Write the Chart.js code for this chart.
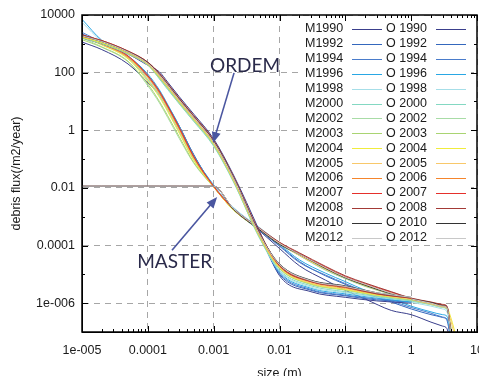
<!DOCTYPE html>
<html>
<head>
<meta charset="utf-8">
<script src="https://cdn.jsdelivr.net/npm/chart.js@4.4.1/dist/chart.umd.min.js"></script>
<style>
  html, body { margin: 0; padding: 0; background: #fff; overflow: hidden; }
  #wrap { width: 479px; height: 376px; overflow: hidden; }
</style>
</head>
<body>
<div id="wrap"><canvas id="fluxChart" width="479" height="382"></canvas></div>
<script>
// years plotted for both models, and the colour used for each year
const years = [1990, 1992, 1994, 1996, 1998, 2000, 2002, 2003, 2004, 2005, 2006, 2007, 2008, 2010, 2012];
const yearColors = ['#3a3f8c', '#3467bd', '#4a7ccb', '#29a7e4', '#a6dee8', '#84d8c2', '#a8dca6', '#a9d472',
  '#f0ec3c', '#f8c86a', '#f5852c', '#e5302b', '#a33a36', '#333333', '#c8c8c8'];
const masterLabels = years.map((y) => 'M' + y);
const ordemLabels = years.map((y) => 'O ' + y);

// ORDEM: size (m) -> flux (/m2/year)
const ordemSizes = [1e-5, 2e-5, 5e-5, 1e-4, 1.5e-4, 2e-4, 3e-4, 5e-4, 1e-3, 2e-3, 5e-3, 1e-2, 3e-2, 0.1, 0.3, 1];
const ordem1990 = [1.6e3, 1.0e3, 4.4e2, 1.8e2, 106, 47, 14.6, 3.6, 0.50, 0.028, 3.1e-4, 9.0e-6, 2.5e-6, 1.6e-6, 1.2e-6, 1.0e-6];
const ordem1992 = [1.7e3, 1.1e3, 4.6e2, 1.9e2, 75, 33, 10.3, 2.5, 0.36, 0.020, 2.2e-4, 1.0e-5, 2.8e-6, 1.8e-6, 1.3e-6, 1.1e-6];
const ordem1994 = [1.7e3, 1.1e3, 4.9e2, 2.0e2, 72, 32, 9.9, 2.4, 0.34, 0.019, 2.1e-4, 1.1e-5, 3.0e-6, 1.9e-6, 1.4e-6, 1.1e-6];
const ordem1996 = [1.8e3, 1.2e3, 5.0e2, 2.0e2, 67, 30, 9.2, 2.3, 0.32, 0.018, 2.0e-4, 1.2e-5, 3.3e-6, 2.1e-6, 1.5e-6, 1.1e-6];
const ordem1998 = [1.7e3, 1.1e3, 4.9e2, 2.0e2, 63, 28, 8.6, 2.1, 0.30, 0.017, 1.8e-4, 1.3e-5, 3.6e-6, 2.3e-6, 1.6e-6, 1.2e-6];
const ordem2000 = [1.7e3, 1.1e3, 4.6e2, 1.9e2, 60, 26, 8.2, 2.0, 0.28, 0.016, 1.8e-4, 1.4e-5, 4.0e-6, 2.5e-6, 1.7e-6, 1.2e-6];
const ordem2002 = [1.6e3, 1.0e3, 4.4e2, 1.8e2, 63, 28, 8.6, 2.1, 0.30, 0.017, 1.8e-4, 1.6e-5, 4.4e-6, 2.8e-6, 1.8e-6, 1.3e-6];
const ordem2003 = [1.7e3, 1.1e3, 4.6e2, 1.9e2, 67, 30, 9.2, 2.3, 0.32, 0.018, 2.0e-4, 1.6e-5, 4.6e-6, 2.9e-6, 1.9e-6, 1.3e-6];
const ordem2004 = [1.7e3, 1.1e3, 4.9e2, 2.0e2, 72, 32, 9.9, 2.4, 0.34, 0.019, 2.1e-4, 1.7e-5, 4.8e-6, 3.0e-6, 1.9e-6, 1.4e-6];
const ordem2005 = [1.8e3, 1.2e3, 5.0e2, 2.0e2, 75, 33, 10.3, 2.5, 0.36, 0.020, 2.2e-4, 1.8e-5, 5.0e-6, 3.2e-6, 2.0e-6, 1.4e-6];
const ordem2006 = [1.8e3, 1.2e3, 5.1e2, 2.1e2, 83, 37, 11.3, 2.8, 0.39, 0.022, 2.4e-4, 1.9e-5, 5.4e-6, 3.4e-6, 2.1e-6, 1.5e-6];
const ordem2007 = [2.0e3, 1.3e3, 5.6e2, 2.3e2, 90, 40, 12.4, 3.0, 0.43, 0.024, 2.7e-4, 2.1e-5, 5.8e-6, 3.7e-6, 2.2e-6, 1.5e-6];
const ordem2008 = [2.0e3, 1.3e3, 5.6e2, 2.3e2, 95, 42, 13, 3.2, 0.45, 0.025, 2.8e-4, 2.0e-5, 5.6e-6, 3.6e-6, 2.1e-6, 1.5e-6];
const ordem2010 = [1.9e3, 1.2e3, 5.3e2, 2.2e2, 86, 38, 11.8, 2.9, 0.41, 0.023, 2.5e-4, 2.3e-5, 6.3e-6, 4.0e-6, 2.3e-6, 1.6e-6];
const ordem2012 = [1.9e3, 1.2e3, 5.2e2, 2.1e2, 83, 37, 11.3, 2.8, 0.39, 0.022, 2.4e-4, 2.2e-5, 6.0e-6, 3.8e-6, 2.3e-6, 1.6e-6];

// MASTER: size (m) -> flux (/m2/year)
const masterSizes = [1e-5, 2e-5, 5e-5, 1e-4, 1.5e-4, 2e-4, 3e-4, 5e-4, 1e-3, 2e-3, 5e-3, 1e-2, 2e-2, 5e-2, 0.1, 0.2, 0.5, 1, 2, 3, 3.5, 4, 5];
const master1990 = [1.15e3, 6.3e2, 2.0e2, 45, 17.8, 7.1, 1.41, 0.141, 0.011, 2.0e-3, 3.2e-4, 7.9e-5, 2.0e-5, 6.3e-6, 2.8e-6, 1.4e-6, 5.6e-7, 4.0e-7, 2.2e-7, 1.6e-7, 1.3e-7, 3.2e-8, 3.2e-9];
const master1992 = [2.2e3, 1.05e3, 3.3e2, 79, 22.4, 7.1, 1.26, 0.126, 0.012, 1.9e-3, 3.5e-4, 1.0e-4, 2.8e-5, 8.9e-6, 4.5e-6, 2.2e-6, 1.1e-6, 6.3e-7, 4.0e-7, 3.2e-7, 2.5e-7, 5.0e-8, 3.2e-9];
const master1994 = [2.5e3, 1.12e3, 3.5e2, 71, 20, 6.3, 1.12, 0.112, 0.011, 1.8e-3, 3.3e-4, 9.5e-5, 2.6e-5, 9.5e-6, 4.8e-6, 2.5e-6, 1.2e-6, 7.1e-7, 4.5e-7, 3.3e-7, 2.8e-7, 6.3e-8, 3.2e-9];
const master1996 = [7.1e3, 1.32e3, 3.8e2, 89, 25, 7.9, 1.41, 0.132, 0.0126, 2.0e-3, 4.0e-4, 1.1e-4, 3.2e-5, 1.1e-5, 5.6e-6, 2.8e-6, 1.4e-6, 7.9e-7, 5.0e-7, 4.0e-7, 3.5e-7, 7.9e-8, 3.2e-9];
const master1998 = [5.6e3, 1.2e3, 3.5e2, 56, 15.8, 5.0, 0.89, 0.095, 0.012, 2.1e-3, 4.2e-4, 1.26e-4, 4.5e-5, 1.4e-5, 7.1e-6, 4.0e-6, 2.0e-6, 1.1e-6, 7.9e-7, 6.3e-7, 5.0e-7, 7.9e-8, 3.2e-9];
const master2000 = [2.0e3, 9.5e2, 3.2e2, 56, 15.8, 5.0, 0.89, 0.095, 0.011, 1.8e-3, 3.8e-4, 1.26e-4, 5.0e-5, 1.6e-5, 7.6e-6, 4.0e-6, 2.1e-6, 1.2e-6, 8.9e-7, 7.1e-7, 6.0e-7, 1.26e-7, 3.2e-9];
const master2002 = [1.6e3, 7.9e2, 2.5e2, 35, 8.9, 2.8, 0.52, 0.071, 0.0105, 1.7e-3, 3.5e-4, 1.1e-4, 4.5e-5, 1.4e-5, 7.1e-6, 3.8e-6, 2.0e-6, 1.26e-6, 8.9e-7, 7.1e-7, 6.3e-7, 1.26e-7, 3.2e-9];
const master2003 = [1.4e3, 7.6e2, 2.4e2, 40, 10, 3.2, 0.60, 0.076, 0.0107, 1.7e-3, 3.6e-4, 1.2e-4, 4.7e-5, 1.5e-5, 7.4e-6, 4.0e-6, 2.1e-6, 1.3e-6, 9.5e-7, 7.6e-7, 6.6e-7, 1.6e-7, 3.2e-9];
const master2004 = [1.8e3, 9.1e2, 3.0e2, 50, 14.1, 4.5, 0.79, 0.089, 0.0107, 1.7e-3, 3.7e-4, 1.2e-4, 4.8e-5, 1.6e-5, 7.9e-6, 4.2e-6, 2.2e-6, 1.4e-6, 1.0e-6, 7.9e-7, 7.1e-7, 3.2e-7, 5.0e-8];
const master2005 = [1.9e3, 9.5e2, 3.3e2, 63, 17.8, 5.6, 1.0, 0.105, 0.011, 1.8e-3, 3.6e-4, 1.15e-4, 4.6e-5, 1.5e-5, 7.6e-6, 4.1e-6, 2.1e-6, 1.35e-6, 9.5e-7, 7.6e-7, 6.6e-7, 2.5e-7, 3.2e-8];
const master2006 = [2.0e3, 1.0e3, 3.5e2, 71, 20, 6.3, 1.12, 0.112, 0.011, 1.8e-3, 3.7e-4, 1.2e-4, 5.0e-5, 1.7e-5, 7.9e-6, 4.4e-6, 2.2e-6, 1.4e-6, 1.0e-6, 7.9e-7, 7.1e-7, 1.0e-7, 3.2e-9];
const master2007 = [2.1e3, 1.05e3, 3.8e2, 79, 22.4, 7.1, 1.26, 0.12, 0.0115, 1.9e-3, 3.8e-4, 1.26e-4, 5.2e-5, 1.8e-5, 8.3e-6, 4.7e-6, 2.4e-6, 1.45e-6, 1.07e-6, 8.7e-7, 7.6e-7, 1.0e-7, 3.2e-9];
const master2008 = [0.0115, 0.0115, 0.0115, 0.0115, 0.0115, 0.0115, 0.0115, 0.0115, 0.0115, 1.9e-3, 4.0e-4, 1.3e-4, 5.6e-5, 1.9e-5, 8.9e-6, 5.0e-6, 2.5e-6, 1.5e-6, 1.1e-6, 9.1e-7, 7.9e-7, 1.0e-7, 3.2e-9];
const master2010 = [0.0115, 0.0115, 0.0115, 0.0115, 0.0115, 0.0115, 0.0115, 0.0115, 0.0115, 1.8e-3, 3.5e-4, 1.1e-4, 5.0e-5, 1.6e-5, 7.6e-6, 4.2e-6, 2.1e-6, 1.4e-6, 1.05e-6, 8.3e-7, 7.2e-7, 1.0e-7, 3.2e-9];
const master2012 = [0.0115, 0.0115, 0.0115, 0.0115, 0.0115, 0.0115, 0.0115, 0.0115, 0.0115, 1.9e-3, 3.8e-4, 1.2e-4, 5.0e-5, 1.7e-5, 7.9e-6, 4.5e-6, 2.2e-6, 1.4e-6, 1.0e-6, 7.9e-7, 7.1e-7, 1.0e-7, 3.2e-9];

const ordemFlux = [ordem1990, ordem1992, ordem1994, ordem1996, ordem1998, ordem2000, ordem2002, ordem2003,
  ordem2004, ordem2005, ordem2006, ordem2007, ordem2008, ordem2010, ordem2012];
const masterFlux = [master1990, master1992, master1994, master1996, master1998, master2000, master2002, master2003,
  master2004, master2005, master2006, master2007, master2008, master2010, master2012];

// axis ticks
const xTicks = [1e-5, 1e-4, 1e-3, 1e-2, 0.1, 1, 10];
const xTickLabels = ['1e-005', '0.0001', '0.001', '0.01', '0.1', '1', '10'];
const yTicks = [1e-6, 1e-4, 1e-2, 1, 100, 10000];
const yTickLabels = ['1e-006', '0.0001', '0.01', '1', '100', '10000'];
const yMinorTicks = [1e-7, 1e-5, 1e-3, 0.1, 10, 1000];

// callouts in data coordinates
const callouts = [
  { text: 'ORDEM', at: [8.8e-4, 105], from: [2.04e-3, 98], to: [9.8e-4, 0.36] },
  { text: 'MASTER', at: [6.9e-5, 1.64e-5], from: [2.33e-4, 6.9e-5], to: [1.13e-3, 4.8e-3] },
];

const FONT = '"Liberation Sans", Arial, sans-serif';

const datasets = [];
years.forEach((year, i) => {
  datasets.push({
    label: masterLabels[i],
    data: masterSizes.map((x, j) => ({ x, y: masterFlux[i][j] })),
    borderColor: yearColors[i],
    borderWidth: 1,
    pointRadius: 0,
    cubicInterpolationMode: 'monotone',
  });
});
years.forEach((year, i) => {
  datasets.push({
    label: ordemLabels[i],
    data: ordemSizes.map((x, j) => ({ x, y: ordemFlux[i][j] })),
    borderColor: yearColors[i],
    borderWidth: 1,
    pointRadius: 0,
    cubicInterpolationMode: 'monotone',
  });
});
// later entries go on top
datasets.forEach((d, i) => { d.order = datasets.length - i; });

const keyPlugin = {
  id: 'key',
  afterDatasetsDraw(chart) {
    const ctx = chart.ctx;
    ctx.save();
    ctx.fillStyle = '#fff';
    ctx.fillRect(298, 17, 173, 228);
    ctx.font = '12.5px ' + FONT;
    ctx.textBaseline = 'middle';
    ctx.textAlign = 'left';
    years.forEach((year, i) => {
      const yy = 29 + i * 14.9;
      const ly = Math.round(yy) + 0.5;
      ctx.fillStyle = '#1a1a1a';
      ctx.fillText(masterLabels[i], 305, yy);
      ctx.fillText(ordemLabels[i], 386, yy);
      ctx.strokeStyle = yearColors[i];
      ctx.lineWidth = 1.2;
      ctx.beginPath();
      ctx.moveTo(352, ly); ctx.lineTo(382, ly);
      ctx.moveTo(436, ly); ctx.lineTo(466, ly);
      ctx.stroke();
    });
    ctx.restore();
  },
};

const framePlugin = {
  id: 'frame',
  afterDatasetsDraw(chart) {
    const { ctx, chartArea: a, scales: { x, y } } = chart;
    ctx.save();
    ctx.strokeStyle = '#000';
    ctx.lineWidth = 1;
    ctx.beginPath();
    const xMinor = [];
    xTicks.slice(0, -1).forEach((d) => { for (let k = 2; k <= 9; k++) xMinor.push(d * k); });
    xMinor.forEach((v) => {
      const px = Math.round(x.getPixelForValue(v)) + 0.5;
      ctx.moveTo(px, a.bottom); ctx.lineTo(px, a.bottom - 3);
      ctx.moveTo(px, a.top); ctx.lineTo(px, a.top + 3);
    });
    xTicks.forEach((v) => {
      const px = Math.round(x.getPixelForValue(v)) + 0.5;
      ctx.moveTo(px, a.bottom); ctx.lineTo(px, a.bottom - 6);
      ctx.moveTo(px, a.top); ctx.lineTo(px, a.top + 6);
    });
    yMinorTicks.forEach((v) => {
      const py = Math.round(y.getPixelForValue(v)) + 0.5;
      ctx.moveTo(a.left, py); ctx.lineTo(a.left + 3, py);
      ctx.moveTo(a.right, py); ctx.lineTo(a.right - 3, py);
    });
    yTicks.forEach((v) => {
      const py = Math.round(y.getPixelForValue(v)) + 0.5;
      ctx.moveTo(a.left, py); ctx.lineTo(a.left + 6, py);
      ctx.moveTo(a.right, py); ctx.lineTo(a.right - 6, py);
    });
    ctx.stroke();
    ctx.lineWidth = 1.5;
    ctx.strokeRect(a.left, a.top, a.right - a.left, a.bottom - a.top);

    // callouts
    callouts.forEach((c) => {
      ctx.fillStyle = '#2a2a4a';
      ctx.font = '19px Lato, "Open Sans", sans-serif';
      ctx.textAlign = 'left';
      ctx.textBaseline = 'alphabetic';
      ctx.fillText(c.text, x.getPixelForValue(c.at[0]), y.getPixelForValue(c.at[1]));
      const x1 = x.getPixelForValue(c.from[0]);
      const y1 = y.getPixelForValue(c.from[1]);
      const x2 = x.getPixelForValue(c.to[0]);
      const y2 = y.getPixelForValue(c.to[1]);
      const ang = Math.atan2(y2 - y1, x2 - x1);
      const head = 11;
      ctx.strokeStyle = '#4a56a0';
      ctx.fillStyle = '#4a56a0';
      ctx.lineWidth = 1.6;
      ctx.beginPath();
      ctx.moveTo(x1, y1);
      ctx.lineTo(x2 - head * 0.8 * Math.cos(ang), y2 - head * 0.8 * Math.sin(ang));
      ctx.stroke();
      ctx.beginPath();
      ctx.moveTo(x2, y2);
      ctx.lineTo(x2 - head * Math.cos(ang) + 4.5 * Math.sin(ang), y2 - head * Math.sin(ang) - 4.5 * Math.cos(ang));
      ctx.lineTo(x2 - head * Math.cos(ang) - 4.5 * Math.sin(ang), y2 - head * Math.sin(ang) + 4.5 * Math.cos(ang));
      ctx.closePath();
      ctx.fill();
    });
    ctx.restore();
  },
};

new Chart(document.getElementById('fluxChart'), {
  type: 'line',
  data: { datasets },
  options: {
    responsive: false,
    animation: false,
    devicePixelRatio: 1,
    layout: { padding: { top: 15, right: 2, bottom: 0, left: 0 } },
    plugins: { legend: { display: false }, tooltip: { enabled: false } },
    scales: {
      x: {
        type: 'logarithmic',
        min: 1e-5,
        max: 10,
        afterBuildTicks: (scale) => { scale.ticks = xTicks.map((v) => ({ value: v })); },
        afterFit: (scale) => { scale.height = 50; scale.paddingLeft = 0; scale.paddingRight = 0; },
        ticks: {
          autoSkip: false,
          maxRotation: 0,
          padding: 11,
          color: '#1a1a1a',
          font: { family: FONT, size: 12.5 },
          callback: (value, index) => xTickLabels[index],
        },
        grid: { color: '#a6a6a6', lineWidth: 1, drawTicks: false },
        border: { display: true, color: '#000', width: 1, dash: [6, 5] },
        title: {
          display: true,
          text: 'size (m)',
          color: '#1a1a1a',
          font: { family: FONT, size: 12.5 },
          padding: { top: 0, bottom: 1 },
        },
      },
      y: {
        type: 'logarithmic',
        min: 1e-7,
        max: 1e4,
        afterBuildTicks: (scale) => { scale.ticks = yTicks.map((v) => ({ value: v })); },
        afterFit: (scale) => { scale.width = 82; scale.paddingTop = 0; scale.paddingBottom = 0; },
        ticks: {
          autoSkip: false,
          padding: 7,
          color: '#1a1a1a',
          font: { family: FONT, size: 12.5 },
          callback: (value, index) => yTickLabels[index],
        },
        grid: { color: '#a6a6a6', lineWidth: 1, drawTicks: false },
        border: { display: true, color: '#000', width: 1, dash: [6, 5] },
        title: {
          display: true,
          text: 'debris flux(/m2/year)',
          color: '#1a1a1a',
          font: { family: FONT, size: 12.5 },
          padding: { top: 9, bottom: 0 },
        },
      },
    },
  },
  plugins: [keyPlugin, framePlugin],
});
</script>
</body>
</html>
